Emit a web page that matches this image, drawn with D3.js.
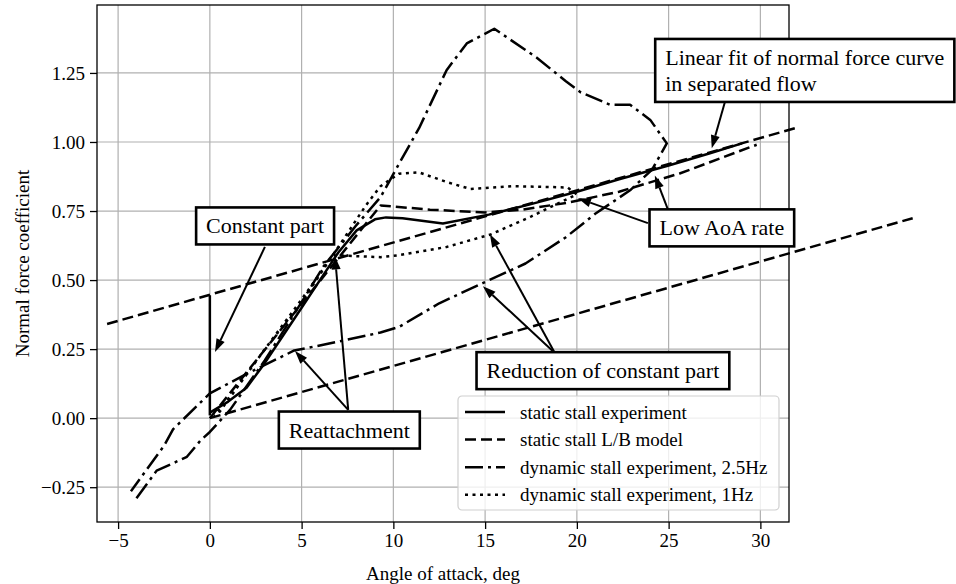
<!DOCTYPE html>
<html>
<head>
<meta charset="utf-8">
<script src="https://cdn.jsdelivr.net/npm/d3@7"></script>
<style>
   body { margin: 0; background: #fff; }
   svg text { font-family: "Liberation Serif", "Times New Roman", serif; fill: #000; }
</style>
</head>
<body>
<svg id="chart" width="956" height="584"></svg>
<script>
// ---------------------------------------------------------------------------------------------
// data (angle of attack in deg, normal force coefficient)
// ---------------------------------------------------------------------------------------------
var xTicks = [-5, 0, 5, 10, 15, 20, 25, 30];
var yTicks = [-0.25, 0, 0.25, 0.5, 0.75, 1.0, 1.25];

var staticExperiment = [[0, 0.02], [1, 0.06], [2, 0.11], [3, 0.2], [4, 0.3], [5, 0.4], [6, 0.5],
   [7, 0.6], [8, 0.68], [9, 0.72], [9.6, 0.727], [10.5, 0.724], [12.7, 0.705], [15.2, 0.737],
   [17.5, 0.775], [20, 0.82], [22.3, 0.865], [25, 0.915], [27.3, 0.96], [29, 0.995]];
var constantPart = [[0, 0.445], [0, 0.01]];

var lbModel = [[0, 0], [9.3, 0.77], [12, 0.755], [15, 0.745], [17, 0.755], [19.5, 0.78],
   [22.3, 0.82], [25.6, 0.886], [29.8, 0.99]];
var separatedFit = [[-5.6, 0.341], [32, 1.052]];
var separatedFitShifted = [[0, 0], [38.3, 0.724]];

var dynamic25 = [[-4.0, -0.29], [-2.9, -0.19], [-1.9, -0.16], [-1.25, -0.14], [-0.5, -0.08],
   [0, -0.05], [1.1, 0.03], [3, 0.21], [5, 0.42], [6.2, 0.55], [8, 0.7], [9.3, 0.8], [10.3, 0.92],
   [11.4, 1.05], [12.9, 1.26], [14, 1.357], [15.5, 1.41], [17.8, 1.306], [19.4, 1.22], [20.2, 1.18],
   [21.8, 1.135], [22.9, 1.135], [24.0, 1.08], [24.9, 0.995], [24.1, 0.9], [22.9, 0.825],
   [21, 0.74], [19.4, 0.655], [17.2, 0.56], [14.9, 0.49], [12.5, 0.416], [10.3, 0.33], [9.3, 0.31],
   [6.5, 0.27], [4.6, 0.245], [2, 0.16], [0, 0.09], [-2, -0.04], [-2.5, -0.1], [-4.3, -0.265]];

var dynamic1 = [[0.5, 0.02], [3, 0.25], [5, 0.42], [7, 0.62], [8.5, 0.77], [9.3, 0.84],
   [10.3, 0.885], [11.4, 0.89], [12.9, 0.855], [14.2, 0.83], [16.5, 0.84], [18.5, 0.837],
   [19.5, 0.835], [20, 0.81], [17.5, 0.73], [15.3, 0.665], [12.9, 0.62], [10.3, 0.59],
   [9.3, 0.583], [6.7, 0.59], [5, 0.43], [3, 0.25], [1, 0.07], [0.2, 0.01]];

var legendLabels = ["static stall experiment", "static stall L/B model",
   "dynamic stall experiment, 2.5Hz", "dynamic stall experiment, 1Hz"];

// annotation boxes: text lines and box centre (data coords)
var boxTexts = [["Constant part"], ["Reattachment"], ["Reduction of constant part"], ["Low AoA rate"],
   ["Linear fit of normal force curve", "in separated flow"]];
var boxCentres = [[3.01, 0.696], [7.6, -0.043], [21.42, 0.172], [27.9, 0.689], [32.42, 1.259]];

// arrows: tail -> head (data coords)
var arrowTails = [[3.0, 0.62], [7.54, 0.03], [7.54, 0.03], [18.8, 0.236], [18.8, 0.236],
   [23.87, 0.706], [24.96, 0.756], [28.06, 1.143]];
var arrowHeads = [[0.28, 0.24], [4.64, 0.243], [6.82, 0.586], [14.88, 0.478], [15.26, 0.666],
   [20.06, 0.796], [24.25, 0.879], [27.35, 0.977]];

// ---------------------------------------------------------------------------------------------
var margin = {top: 5, right: 167, bottom: 62, left: 97},
   width = 956 - margin.left - margin.right,
   height = 584 - margin.top - margin.bottom;

var x = d3.scaleLinear().domain([-6.15, 31.56]).range([0, width]);
var y = d3.scaleLinear().domain([-0.376, 1.496]).range([height, 0]);

var svg = d3.select("#chart");
var g = svg.append("g")
   .attr("transform", "translate(" + margin.left + "," + margin.top + ")");

// grid
g.selectAll("line.gx").data(xTicks).enter().append("line")
   .attr("class", "gx")
   .attr("x1", function(d) { return x(d); }).attr("x2", function(d) { return x(d); })
   .attr("y1", 0).attr("y2", height)
   .attr("stroke", "#b0b0b0").attr("stroke-width", 1.2);
g.selectAll("line.gy").data(yTicks).enter().append("line")
   .attr("class", "gy")
   .attr("y1", function(d) { return y(d); }).attr("y2", function(d) { return y(d); })
   .attr("x1", 0).attr("x2", width)
   .attr("stroke", "#b0b0b0").attr("stroke-width", 1.2);

// axes
var xAxis = g.append("g")
   .attr("transform", "translate(0," + height + ")")
   .call(d3.axisBottom(x).tickValues(xTicks).tickSize(7).tickPadding(5).tickFormat(d3.format("d")));
var yAxis = g.append("g")
   .call(d3.axisLeft(y).tickValues(yTicks).tickSize(7).tickPadding(5).tickFormat(d3.format(".2f")));
[xAxis, yAxis].forEach(function(a) {
   a.select(".domain").remove();
   a.selectAll(".tick line").attr("stroke", "#000").attr("stroke-width", 1.3);
   a.selectAll(".tick text").style("font-size", "19px").attr("fill", "#000");
});

// series
var line = d3.line()
   .x(function(d) { return x(d[0]); })
   .y(function(d) { return y(d[1]); });

var series = [
   {data: constantPart, dash: null, legend: -1},
   {data: staticExperiment, dash: null, legend: 0},
   {data: lbModel, dash: "11,5", legend: 1},
   {data: separatedFit, dash: "11,5", legend: -1},
   {data: separatedFitShifted, dash: "11,5", legend: -1},
   {data: dynamic25, dash: "18,5,3,5", legend: 2},
   {data: dynamic1, dash: "3,4.5", legend: 3}
];
var dashes = ["none", "11,5", "18,5,3,5", "3,4.5"];

g.selectAll("path.series").data(series).enter().append("path")
   .attr("class", "series")
   .attr("d", function(d) { return line(d.data); })
   .attr("fill", "none")
   .attr("stroke", "#000")
   .attr("stroke-width", 2.5)
   .attr("stroke-linejoin", "round")
   .attr("stroke-dasharray", function(d) { return d.dash; });

// frame
g.append("rect")
   .attr("width", width).attr("height", height)
   .attr("fill", "none").attr("stroke", "#000").attr("stroke-width", 1.3);

// axis labels
svg.append("text")
   .attr("x", margin.left + width / 2).attr("y", 580)
   .attr("text-anchor", "middle")
   .style("font-size", "19px")
   .text("Angle of attack, deg");
svg.append("text")
   .attr("transform", "translate(22," + (margin.top + height / 2) + ") rotate(-90)")
   .attr("text-anchor", "middle")
   .attr("dominant-baseline", "central")
   .style("font-size", "19px")
   .text("Normal force coefficient");

// legend
var legend = g.append("g")
   .attr("transform", "translate(" + (width - 331) + "," + (height - 126) + ")");
legend.append("rect")
   .attr("width", 321).attr("height", 114).attr("rx", 4)
   .attr("fill", "#fff").attr("fill-opacity", 0.8)
   .attr("stroke", "#d0d0d0").attr("stroke-width", 1.2);
var entries = legend.selectAll("g.entry").data(legendLabels).enter().append("g")
   .attr("class", "entry")
   .attr("transform", function(d, i) { return "translate(0," + (16 + i * 27.6) + ")"; });
entries.append("line")
   .attr("x1", 7).attr("x2", 47)
   .attr("stroke", "#000").attr("stroke-width", 2.5)
   .attr("stroke-dasharray", function(d, i) { return dashes[i]; });
entries.append("text")
   .attr("x", 62)
   .attr("dominant-baseline", "central")
   .style("font-size", "19px")
   .text(function(d) { return d; });

// arrows
var headLen = 13, headHalf = 4.5;
arrowTails.forEach(function(t, i) {
   var h = arrowHeads[i];
   var x0 = x(t[0]), y0 = y(t[1]), x1 = x(h[0]), y1 = y(h[1]);
   var dx = x1 - x0, dy = y1 - y0, len = Math.sqrt(dx * dx + dy * dy);
   var ux = dx / len, uy = dy / len;
   var bx = x1 - ux * headLen, by = y1 - uy * headLen;
   g.append("line")
      .attr("x1", x0).attr("y1", y0).attr("x2", bx).attr("y2", by)
      .attr("stroke", "#000").attr("stroke-width", 2);
   g.append("path")
      .attr("d", "M" + x1 + "," + y1 +
         "L" + (bx - uy * headHalf) + "," + (by + ux * headHalf) +
         "L" + (bx + uy * headHalf) + "," + (by - ux * headHalf) + "Z")
      .attr("fill", "#000");
});

// annotation boxes
boxTexts.forEach(function(lines, i) {
   var c = boxCentres[i];
   var bg = g.append("g");
   var rect = bg.append("rect");
   var lineH = 26;
   var txt = bg.append("text").style("font-size", "22px");
   lines.forEach(function(s, k) {
      txt.append("tspan")
         .attr("x", 0)
         .attr("y", (k - (lines.length - 1) / 2) * lineH)
         .attr("dominant-baseline", "central")
         .text(s);
   });
   var bb = txt.node().getBBox();
   var padX = 10, padY = 6;
   var w = bb.width + 2 * padX, hgt = lines.length * lineH + 2 * padY - 1;
   var left = x(c[0]) - w / 2, top = y(c[1]) - hgt / 2;
   txt.attr("transform", "translate(" + (left + padX) + "," + y(c[1]) + ")");
   rect.attr("x", left).attr("y", top).attr("width", w).attr("height", hgt)
      .attr("fill", "#fff").attr("stroke", "#000").attr("stroke-width", 2.6);
});
</script>
</body>
</html>
